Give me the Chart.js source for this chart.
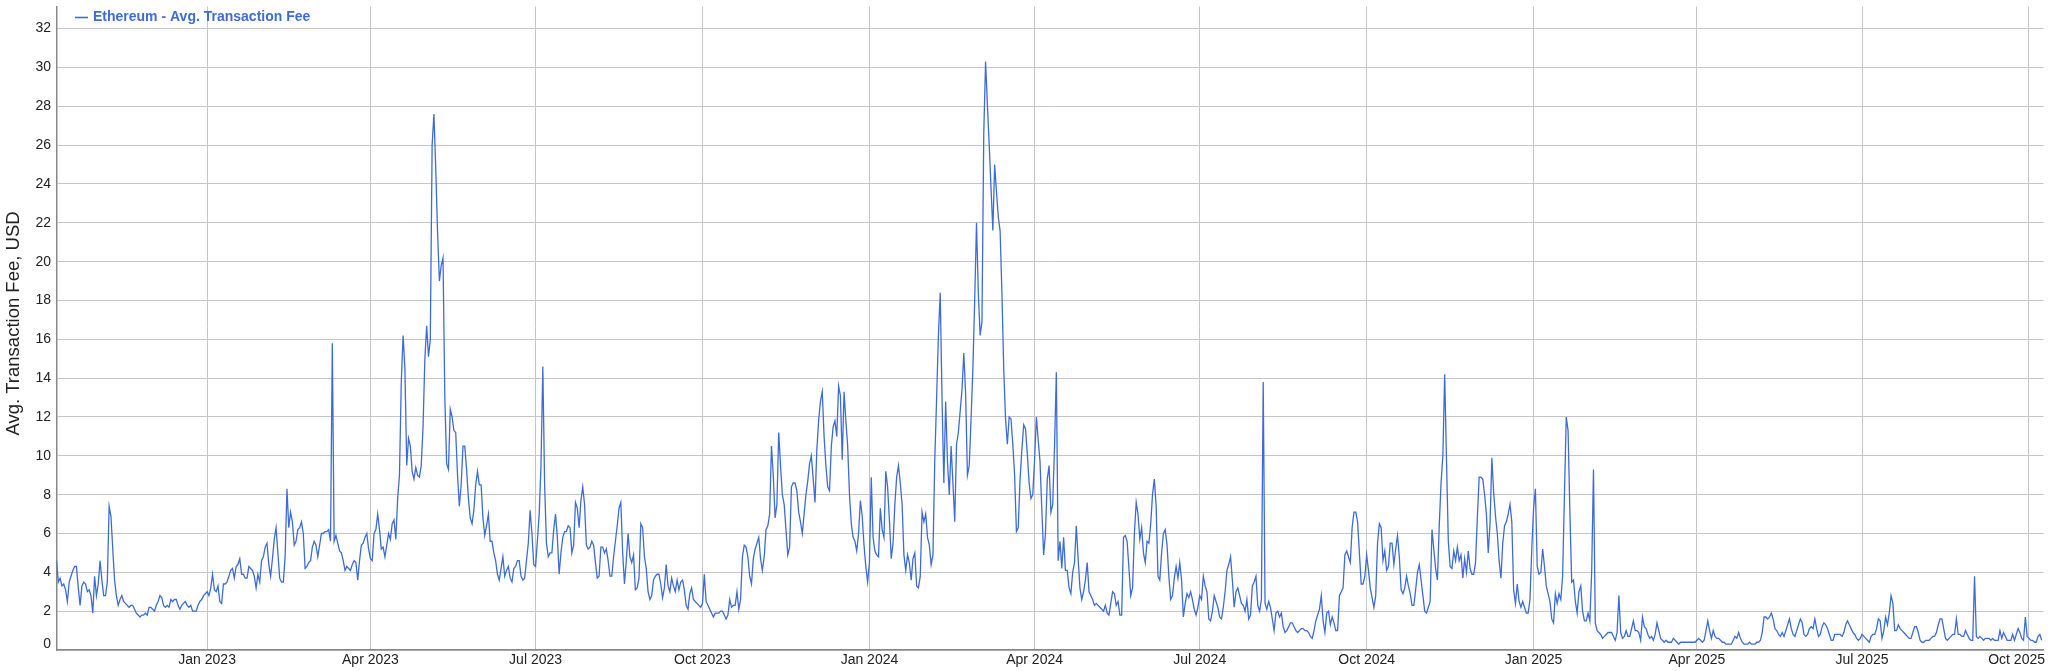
<!DOCTYPE html>
<html>
<head>
<meta charset="utf-8">
<script src="https://cdn.jsdelivr.net/npm/chart.js@4.4.1/dist/chart.umd.min.js"></script>
<style>
html,body{margin:0;padding:0;background:#ffffff;}
#wrap{width:2048px;height:671px;position:relative;}
</style>
</head>
<body>
<div id="wrap"><canvas id="c" width="2048" height="671"></canvas></div>
<script>
// ---- data (daily values, first point = startDate) ----
const startDate = '2022-10-10';
const seriesLabel = 'Ethereum - Avg. Transaction Fee';
const yTitle = 'Avg. Transaction Fee, USD';

const fees2022 = [4.6,3.5,3.7,3.3,3.4,3.1,2.5,3.5,3.8,4.1,
4.3,4.3,3.2,2.3,3.3,3.5,3.4,3.0,3.1,2.8,
1.9,3.8,2.8,3.4,4.6,3.6,2.8,2.8,3.5,7.4,
6.9,5.2,3.6,2.8,2.3,2.6,2.8,2.5,2.4,2.3,
2.2,2.3,2.3,2.1,1.9,1.8,1.7,1.8,1.8,1.9,
1.8,2.2,2.2,2.1,2.0,2.3,2.5,2.8,2.7,2.3,
2.2,2.3,2.2,2.6,2.5,2.6,2.6,2.3,2.1,2.3,
2.4,2.5,2.3,2.2,2.3,2.0,2.0,2.0,2.3,2.5,
2.6,2.8,2.9];

const fees2023 = [3.0,2.8,3.2,3.9,3.1,3.0,3.3,
2.5,2.4,3.4,3.4,3.5,3.8,4.1,4.2,3.7,4.3,
4.4,4.7,3.9,3.9,3.7,3.7,4.3,4.2,4.1,3.8,
3.2,3.9,3.5,4.6,4.8,5.3,5.5,4.4,3.8,4.7,
5.7,6.3,5.0,3.7,3.5,3.5,4.8,8.3,6.3,7.1,
6.6,5.4,5.6,6.2,6.3,6.6,6.0,4.2,4.3,4.5,
4.6,5.3,5.6,5.4,4.8,5.4,6.0,6.0,6.1,6.1,
6.2,5.6,15.8,5.6,5.9,5.5,5.1,5.0,4.6,4.1,
4.3,4.2,4.1,4.4,4.6,4.5,3.6,4.6,5.4,5.5,
5.8,6.0,5.2,4.7,4.6,6.0,6.2,7.0,6.2,5.2,
5.3,4.8,5.4,6.0,5.7,6.5,6.7,5.7,7.8,9.0,
13.8,16.2,14.5,9.5,10.9,10.5,9.2,8.8,9.4,9.0,
8.9,9.5,11.5,15.0,16.7,15.1,16.0,26.0,27.6,24.8,
21.5,19.0,19.8,20.2,13.0,9.6,9.3,12.4,12.0,11.3,
11.2,9.0,7.4,8.5,10.5,10.5,9.3,7.8,6.8,6.5,
7.2,8.5,9.2,8.5,8.5,6.8,5.9,6.4,7.0,5.6,
5.6,5.0,4.6,3.9,3.6,4.2,4.8,3.8,4.1,4.3,
3.7,3.5,4.2,4.3,4.6,4.6,3.8,3.6,3.7,4.6,
5.5,7.2,6.0,4.4,4.3,5.6,7.0,9.5,14.6,8.5,
5.5,4.8,5.0,5.0,6.2,7.0,5.8,3.9,5.0,5.8,
6.1,6.1,6.4,6.3,5.0,5.4,7.6,7.3,6.3,7.7,
8.4,7.5,5.4,5.2,5.3,5.6,5.4,4.5,3.7,3.8,
5.3,5.3,5.0,5.2,4.6,3.8,3.8,4.8,5.6,6.4,
7.3,7.6,5.0,3.4,4.6,6.0,4.8,4.5,4.9,3.1,
3.2,3.7,6.5,6.3,4.8,4.2,3.0,2.6,2.8,3.6,
3.8,3.9,3.9,3.4,2.7,3.2,4.4,3.3,3.0,3.7,
3.3,3.0,3.6,3.1,3.5,3.6,3.1,2.3,2.1,2.9,
3.2,2.6,2.5,2.4,2.3,2.2,2.4,3.9,2.5,2.3,
2.1,1.9,1.7,1.9,1.9,1.9,2.0,2.0,1.8,1.6,
1.8,2.6,2.2,2.3,2.3,3.0,2.1,2.6,4.8,5.4,
5.3,4.8,3.8,3.4,4.7,5.2,5.5,5.8,4.7,4.1,
4.8,6.2,6.4,7.0,10.5,9.0,6.8,7.5,11.2,9.5,
8.0,7.5,6.2,4.9,5.3,8.4,8.6,8.6,8.2,7.1,
6.6,6.0,7.0,8.0,8.7,9.6,10.0,8.8,7.6,10.3,
11.8,12.8,13.3,11.0,9.5,8.4,8.2,10.5,11.5,11.8,
11.0,13.6,13.1,9.8,13.3,11.8,10.5,8.0,6.5,5.8,
5.6,5.1,6.0,7.7,6.9,5.4,4.3,3.5];

const fees2024 = [4.5,8.9,5.8,5.1,4.9,4.8,7.3,6.2,5.8,9.2,8.4,6.7,
4.7,5.5,7.5,8.9,9.5,8.6,7.5,4.9,4.1,4.9,
4.5,3.6,4.7,5.0,3.3,3.2,3.8,7.1,6.6,7.0,
5.8,5.4,4.4,4.9,9.8,12.9,16.2,18.4,12.9,8.6,
12.8,9.7,8.0,10.5,8.6,6.6,10.6,11.2,12.3,13.4,
15.3,13.2,9.0,9.5,11.9,14.5,18.0,22.0,18.4,16.2,
16.9,26.6,30.3,28.1,26.0,23.8,21.6,25.0,23.6,22.3,
21.6,18.4,14.5,11.9,10.6,12.0,11.9,10.6,9.0,6.1,
6.3,8.8,10.3,11.6,11.4,10.1,8.6,7.8,8.0,9.8,
12.0,10.8,9.7,7.2,4.9,6.0,8.8,9.5,7.1,7.5,
10.5,14.3,4.6,5.6,4.2,5.8,4.1,4.1,3.2,2.9,
4.0,4.5,6.4,4.7,3.2,2.6,3.0,3.6,4.5,3.0,
2.8,2.6,2.3,2.4,2.3,2.2,2.1,2.0,2.3,1.9,
1.8,2.4,3.0,2.9,2.3,2.5,1.8,1.8,5.8,5.9,
5.6,4.2,2.8,3.2,6.0,7.6,7.0,5.7,6.3,5.0,
4.5,5.6,5.5,6.5,8.0,8.8,7.4,3.8,3.6,5.0,
6.0,6.2,5.4,3.8,2.6,2.8,3.7,4.3,3.7,4.5,
3.6,1.7,2.4,2.9,2.7,3.0,2.6,2.1,1.8,2.2,
2.8,2.6,3.8,3.3,3.0,1.6,1.5,2.0,2.8,2.5,
2.2,1.7,1.6,2.2,3.0,4.1,4.4,4.8,3.6,2.2,
3.0,3.2,2.8,2.4,2.3,2.0,2.6,1.6,1.8,3.3,
3.5,3.8,2.3,2.0,2.6,13.8,2.4,2.1,2.5,2.2,
1.6,1.0,1.9,2.0,1.7,1.9,1.2,0.9,1.0,1.2,
1.4,1.4,1.2,1.0,0.9,1.0,1.1,1.1,1.0,1.0,
0.9,0.7,0.6,1.0,1.5,1.8,2.1,2.8,1.5,0.9,
1.9,2.0,1.3,1.7,1.4,1.0,1.0,2.8,3.0,3.2,
4.9,5.1,4.8,4.5,6.3,7.1,7.1,6.6,5.0,3.4,
3.4,3.8,4.9,4.1,3.2,2.7,2.2,2.8,5.5,6.5,
6.3,4.6,5.1,4.1,4.3,5.5,5.5,4.4,5.2,5.9,
4.8,3.1,2.9,3.2,3.8,3.3,2.9,2.3,2.3,3.1,
4.0,4.4,3.6,2.8,2.0,1.9,2.2,2.5,6.2,5.2,
4.2,3.6,6.4,8.6,10.0,14.2,9.8,5.6,4.3,4.2,
5.1,4.6,5.3,4.6,4.9,3.7,4.7,4.0,5.1,4.2,
3.9,3.9,4.5,6.8,8.9,8.9,8.8,8.0,7.0,5.0,
6.5,9.9,8.1,6.9,6.0,4.6,3.7,5.5,6.4,6.6,
7.0,7.5,6.6,3.1,2.4,3.4,2.5,2.2,2.5,2.2,
1.9,1.9,2.6,5.2];

const fees2025 = [7.3,8.3,4.3,3.9,4.0,5.2,
4.3,3.3,2.9,2.5,1.6,1.4,2.9,2.4,2.9,2.6,
3.8,8.0,12.0,11.3,7.1,3.5,3.6,2.5,1.9,3.0,
3.3,2.0,1.5,1.5,1.9,1.5,4.0,9.3,1.4,1.0,
0.9,0.8,0.6,0.7,0.8,0.9,0.9,0.9,0.7,0.5,
0.9,2.8,0.9,0.6,0.7,1.0,0.7,0.7,1.1,1.5,
1.0,1.0,0.9,0.5,1.7,1.2,1.1,0.8,0.6,0.7,
0.5,0.8,1.4,1.0,0.6,0.5,0.4,0.5,0.4,0.4,
0.4,0.6,0.5,0.4,0.3,0.4,0.4,0.4,0.4,0.4,
0.4,0.4,0.4,0.4,0.5,0.6,0.5,0.4,0.5,1.0,
1.5,1.0,0.6,1.0,0.7,0.6,0.6,0.5,0.4,0.4,
0.3,0.3,0.3,0.3,0.5,0.7,0.6,0.9,0.6,0.4,
0.3,0.3,0.3,0.4,0.3,0.3,0.3,0.4,0.4,0.5,
0.9,1.7,1.7,1.6,1.7,1.9,1.6,1.1,1.0,0.8,
0.7,0.9,0.7,1.0,1.3,1.6,1.1,0.8,0.7,1.0,
1.3,1.6,1.4,0.8,0.7,0.8,1.1,1.2,1.1,1.6,
1.1,0.7,0.8,1.2,1.4,1.3,1.1,0.8,0.5,0.5,
0.8,0.8,0.8,0.8,0.7,0.9,1.3,1.5,1.3,1.1,
0.9,0.8,0.6,0.5,0.6,0.8,0.7,0.6,0.5,0.4,
0.7,0.8,0.8,1.1,1.6,1.5,0.6,1.0,1.7,1.3,
1.9,2.8,2.4,1.0,1.0,1.3,1.1,1.0,0.9,0.8,
0.7,0.6,0.6,0.9,1.2,1.2,0.9,0.5,0.4,0.4,
0.5,0.5,0.5,0.6,0.7,0.7,0.9,1.3,1.6,1.6,
1.1,0.6,0.5,0.6,0.7,0.8,0.8,1.6,0.8,0.8,
0.7,0.7,1.0,0.8,0.6,0.5,0.5,3.8,0.7,0.6,
0.7,0.6,0.5,0.6,0.6,0.6,0.5,0.6,0.5,0.5,
0.5,1.0,0.6,0.9,0.7,0.5,0.5,0.5,0.8,0.5,
0.8,1.1,0.9,0.6,0.5,1.7,0.7,0.6,0.5,0.5,
0.4,0.4,0.7,0.8,0.5];

const tickDates = ['2023-01-01','2023-04-01','2023-07-01','2023-10-01','2024-01-01','2024-04-01',
                   '2024-07-01','2024-10-01','2025-01-01','2025-04-01','2025-07-01','2025-10-01'];
const tickLabels = ['Jan 2023','Apr 2023','Jul 2023','Oct 2023','Jan 2024','Apr 2024',
                    'Jul 2024','Oct 2024','Jan 2025','Apr 2025','Jul 2025','Oct 2025'];
const yTicks = [0,2,4,6,8,10,12,14,16,18,20,22,24,26,28,30,32];

// ---- build ----
const DAY = 86400000;
const t0 = Date.parse(startDate + 'T00:00:00Z');
const fees = [].concat(fees2022, fees2023, fees2024, fees2025);
const points = fees.map((v, i) => ({ x: i, y: v }));
const tickPos = tickDates.map(d => Math.round((Date.parse(d + 'T00:00:00Z') - t0) / DAY));

const FAMILY = '"Liberation Sans", Arial, Helvetica, sans-serif';
const LINE = '#3d6cd9';
const GRID = '#c6c6c6';
const AXIS = '#888888';
const TEXT = '#222222';

// legend drawn inside the plot, top-left
const insideLegend = {
  id: 'insideLegend',
  afterDraw(chart) {
    const ctx = chart.ctx;
    const ds = chart.data.datasets[0];
    ctx.save();
    ctx.strokeStyle = ds.borderColor;
    ctx.lineWidth = 1.6;
    ctx.beginPath();
    ctx.moveTo(75, 17.5);
    ctx.lineTo(88, 17.5);
    ctx.stroke();
    ctx.font = 'bold 14px ' + FAMILY;
    ctx.fillStyle = ds.borderColor;
    ctx.textBaseline = 'middle';
    ctx.textAlign = 'left';
    ctx.fillText(ds.label, 93, 17.5);
    ctx.restore();
  }
};

// tick labels and axis title (last x label and the 0 label are kept inside)
const axisText = {
  id: 'axisText',
  afterDraw(chart) {
    const ctx = chart.ctx, xs = chart.scales.x, ys = chart.scales.y, a = chart.chartArea;
    ctx.save();
    ctx.font = '14px ' + FAMILY;
    ctx.fillStyle = TEXT;
    ctx.textBaseline = 'middle';
    ctx.textAlign = 'center';
    tickPos.forEach((p, i) => {
      const w = ctx.measureText(tickLabels[i]).width;
      let x = xs.getPixelForValue(p);
      x = Math.min(x, chart.width - 3 - w / 2);
      ctx.fillText(tickLabels[i], x, a.bottom + 10);
    });
    ctx.textAlign = 'right';
    yTicks.forEach(v => {
      let y = ys.getPixelForValue(v);
      y = Math.min(y, a.bottom - 6);
      ctx.fillText(String(v), a.left - 5.5, y);
    });
    // y axis title
    ctx.translate(13.5, 323.5);
    ctx.rotate(-Math.PI / 2);
    ctx.textAlign = 'center';
    ctx.font = '18.5px ' + FAMILY;
    ctx.fillText(yTitle, 0, 0);
    ctx.restore();
  }
};

new Chart(document.getElementById('c'), {
  type: 'line',
  data: {
    datasets: [{
      label: seriesLabel,
      data: points,
      borderColor: LINE,
      backgroundColor: LINE,
      borderWidth: 1.3,
      pointRadius: 0,
      tension: 0,
      fill: false
    }]
  },
  options: {
    responsive: false,
    animation: false,
    devicePixelRatio: 1,
    events: [],
    layout: { padding: { top: 6.5, right: 4.5, left: 0, bottom: 0 } },
    plugins: { legend: { display: false }, tooltip: { enabled: false } },
    scales: {
      x: {
        type: 'linear',
        min: 0,
        max: 1095,
        afterBuildTicks: s => { s.ticks = tickPos.map(v => ({ value: v })); },
        afterFit: s => { s.height = 21; s.paddingLeft = 0; s.paddingRight = 0; },
        ticks: { display: false },
        grid: { color: GRID, lineWidth: 1, drawTicks: false },
        border: { color: AXIS, width: 1.5 }
      },
      y: {
        type: 'linear',
        min: 0,
        max: 33.14,
        afterBuildTicks: s => { s.ticks = yTicks.map(v => ({ value: v })); },
        afterFit: s => { s.width = 56.5; s.paddingTop = 0; s.paddingBottom = 0; },
        ticks: { display: false },
        grid: { color: GRID, lineWidth: 1, drawTicks: false },
        border: { color: AXIS, width: 1.5 },
        title: { display: false, text: yTitle }
      }
    }
  },
  plugins: [insideLegend, axisText]
});
</script>
</body>
</html>
